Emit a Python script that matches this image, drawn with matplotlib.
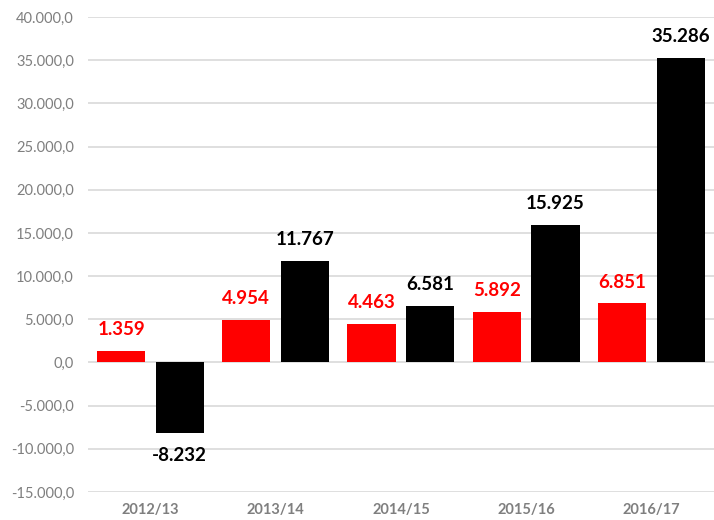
import numpy as np
import matplotlib
matplotlib.use("Agg")
import matplotlib.pyplot as plt
from matplotlib.ticker import FuncFormatter, MultipleLocator

# data
years = ["2012/13", "2013/14", "2014/15", "2015/16", "2016/17"]
red_vals = [1359, 4954, 4463, 5892, 6851]
black_vals = [-8232, 11767, 6581, 15925, 35286]


def de_fmt(v, dec=0):
    s = f"{v:,.{dec}f}"
    return s.replace(",", "X").replace(".", ",").replace("X", ".")


plt.rcParams["font.family"] = ["Lato", "DejaVu Sans"]

fig = plt.figure(figsize=(7.14, 5.20), dpi=100)
ax = fig.add_axes([0.123, 0.054, 0.877, 0.913])

x = np.arange(len(years))
w = 0.385
off = 0.234
ax.bar(x - off, red_vals, w, color="#ff0000", zorder=3)
ax.bar(x + off, black_vals, w, color="#000000", zorder=3)

# value labels
lbl_kw = dict(textcoords="offset points", ha="center", fontsize=13.5, fontweight="bold")
for xi, v in zip(x, red_vals):
    ax.annotate(de_fmt(v), (xi - off, v), xytext=(0, 9), va="bottom",
                color="#ff0000", **lbl_kw)
for xi, v in zip(x, black_vals):
    if v >= 0:
        ax.annotate(de_fmt(v), (xi + off, v), xytext=(0, 9), va="bottom",
                    color="black", **lbl_kw)
    else:
        ax.annotate(de_fmt(v), (xi + off, v), xytext=(0, -10), va="top",
                    color="black", **lbl_kw)

ax.set_ylim(-15000, 40000)
ax.set_xlim(-0.5, len(years) - 0.5)
ax.yaxis.set_major_locator(MultipleLocator(5000))
ax.yaxis.set_major_formatter(FuncFormatter(lambda v, p: de_fmt(v, 1)))
ax.grid(axis="y", color="#d9d9d9", lw=1.2, zorder=0)
ax.set_xticks(x)
ax.set_xticklabels(years, fontweight="bold")
ax.tick_params(axis="both", length=0, colors="#7f7f7f", labelsize=10.5)
ax.tick_params(axis="y", pad=10)
ax.tick_params(axis="x", pad=8)
for s in ax.spines.values():
    s.set_visible(False)

fig.savefig("out.png", dpi=100)
